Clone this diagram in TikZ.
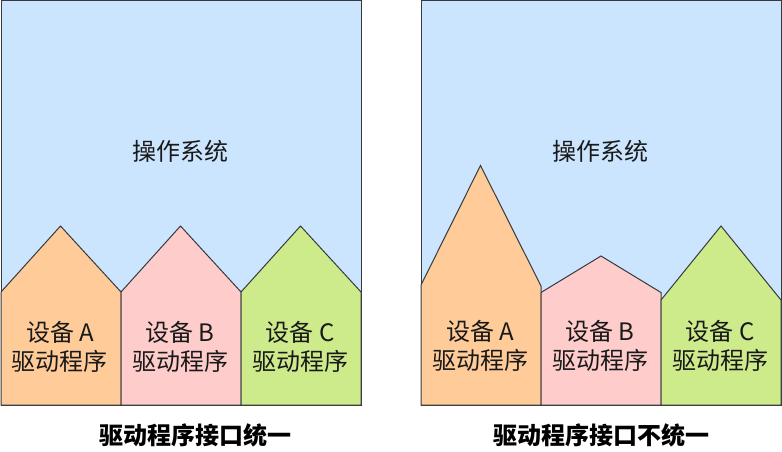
\documentclass[tikz,border=0pt]{standalone}
\usepackage{fontspec}
\newfontfamily\cjk{Noto Sans CJK SC}
\definecolor{osblue}{HTML}{CCE5FF}
\definecolor{drvorange}{HTML}{FFCC99}
\definecolor{drvpink}{HTML}{FFCCCC}
\definecolor{drvgreen}{HTML}{CDEB8B}
\definecolor{edge}{HTML}{36393D}
\tikzset{
  house/.style={draw=edge, line width=1pt, line join=miter},
  drvlabel/.style={align=center, text=black!90, font=\cjk\fontsize{24}{29}\selectfont},
  oslabel/.style={text=black!90, font=\cjk\fontsize{24}{28}\selectfont},
  caption/.style={text=black, font=\cjk\bfseries\fontsize{24}{28}\selectfont}
}
\begin{document}
\begin{tikzpicture}[x=1pt, y=-1pt]
    \useasboundingbox (0,0) rectangle (782,452);

    % left: uniform interface
    \draw[house, fill=osblue] (1,1) rectangle (361,405);
    \node[oslabel] (osleft) at (180,151) {操作系统};
    \draw[house, fill=drvorange] (1,405) -- (1,292) -- (60.5,226) -- (121,292) -- (121,405) -- cycle;
    \draw[house, fill=drvpink] (121,405) -- (121,292) -- (180.5,226) -- (241,292) -- (241,405) -- cycle;
    \draw[house, fill=drvgreen] (241,405) -- (241,292) -- (300.5,226) -- (361,292) -- (361,405) -- cycle;
    \node[drvlabel] (leftA) at (60,347) {设备 A\\驱动程序};
    \node[drvlabel] (leftB) at (180,347) {设备 B\\驱动程序};
    \node[drvlabel] (leftC) at (300,347) {设备 C\\驱动程序};
    \node[caption] (capleft) at (195,435) {驱动程序接口统一};

    % right: non-uniform interface
    \draw[house, fill=osblue] (421,1) rectangle (781,405);
    \node[oslabel] (osright) at (600,151) {操作系统};
    \draw[house, fill=drvorange] (421,405) -- (421,285) -- (480.5,165.5) -- (541,286) -- (541,405) -- cycle;
    \draw[house, fill=drvpink] (541,405) -- (541,292.5) -- (601,256) -- (661,292.5) -- (661,405) -- cycle;
    \draw[house, fill=drvgreen] (661,405) -- (661,300) -- (721,226) -- (781,300) -- (781,405) -- cycle;
    \node[drvlabel] (rightA) at (480,346) {设备 A\\驱动程序};
    \node[drvlabel] (rightB) at (600,346) {设备 B\\驱动程序};
    \node[drvlabel] (rightC) at (720,346) {设备 C\\驱动程序};
    \node[caption] (capright) at (601,435) {驱动程序接口不统一};
  \end{tikzpicture}
\end{document}
